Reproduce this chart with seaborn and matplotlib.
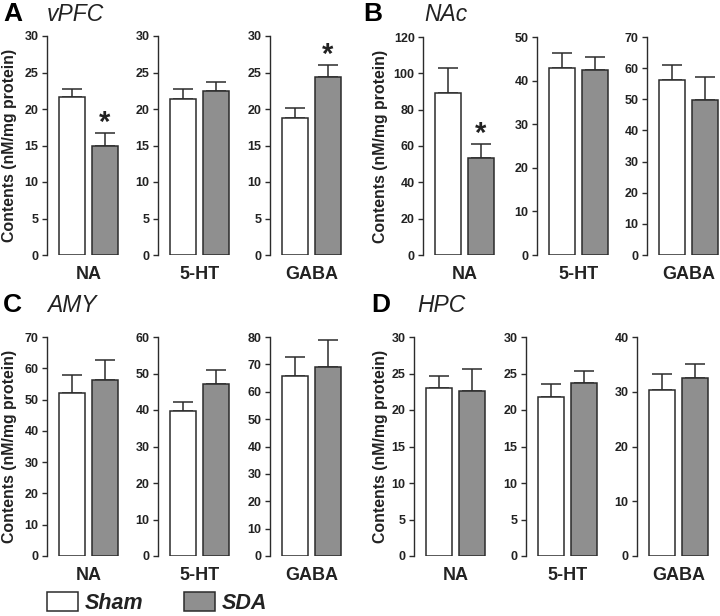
import numpy as np
import pandas as pd
import matplotlib
matplotlib.use("Agg")
import matplotlib.pyplot as plt
from matplotlib.patches import Patch
import seaborn as sns

# ---------------- data ----------------
regions = ["vPFC", "NAc", "AMY", "HPC"]
letters = ["A", "B", "C", "D"]
transmitters = ["NA", "5-HT", "GABA"]
groups = ["Sham", "SDA"]

sham_vpfc = [21.6, 21.4, 18.8]
sham_vpfc_top = [22.7, 22.7, 20.1]
sda_vpfc = [15.0, 22.4, 24.35]
sda_vpfc_top = [16.7, 23.75, 26.0]

sham_nac = [88.9, 42.9, 56.1]
sham_nac_top = [103.0, 46.4, 61.0]
sda_nac = [53.2, 42.4, 49.9]
sda_nac_top = [61.1, 45.4, 57.0]

sham_amy = [52.2, 39.6, 65.8]
sham_amy_top = [57.9, 42.3, 72.7]
sda_amy = [56.1, 47.0, 69.2]
sda_amy_top = [62.6, 51.0, 79.0]

sham_hpc = [23.0, 21.8, 30.4]
sham_hpc_top = [24.6, 23.6, 33.2]
sda_hpc = [22.55, 23.65, 32.6]
sda_hpc_top = [25.6, 25.4, 35.0]

ymax_vpfc = [30, 30, 30]
ymax_nac = [120, 50, 70]
ymax_amy = [70, 60, 80]
ymax_hpc = [30, 30, 40]
ystep_vpfc = [5, 5, 5]
ystep_nac = [20, 10, 10]
ystep_amy = [10, 10, 10]
ystep_hpc = [5, 5, 10]

# significance markers (region, transmitter) on SDA bar
significant = [("vPFC", "NA"), ("vPFC", "GABA"), ("NAc", "NA")]

rows = []
for reg, sm, st, dm, dt in [
    ("vPFC", sham_vpfc, sham_vpfc_top, sda_vpfc, sda_vpfc_top),
    ("NAc", sham_nac, sham_nac_top, sda_nac, sda_nac_top),
    ("AMY", sham_amy, sham_amy_top, sda_amy, sda_amy_top),
    ("HPC", sham_hpc, sham_hpc_top, sda_hpc, sda_hpc_top),
]:
    for i, tr in enumerate(transmitters):
        rows.append(dict(region=reg, transmitter=tr, group="Sham", mean=sm[i], sem=st[i] - sm[i]))
        rows.append(dict(region=reg, transmitter=tr, group="SDA", mean=dm[i], sem=dt[i] - dm[i]))
df = pd.DataFrame(rows)

ymax = dict(vPFC=ymax_vpfc, NAc=ymax_nac, AMY=ymax_amy, HPC=ymax_hpc)
ystep = dict(vPFC=ystep_vpfc, NAc=ystep_nac, AMY=ystep_amy, HPC=ystep_hpc)

# ---------------- style ----------------
sns.set_style("ticks")
plt.rcParams["font.family"] = ["Liberation Sans", "DejaVu Sans"]
plt.rcParams["font.weight"] = "bold"

DARK = "#2b2b2b"
GRAY = "#8f8f8f"
TXT = "#222222"
palette = {"Sham": "white", "SDA": GRAY}

W, H = 720, 616
fig = plt.figure(figsize=(W / 100, H / 100), dpi=100)

# pixel layout: (left axis x positions, top y, bottom y, label right edge, letter x, title x, header baseline)
layout = {
    "vPFC": ([47, 158, 270], 36, 255, 17, 3, 47, 21),
    "NAc": ([423, 537, 647], 37, 255, 388, 363, 424, 21),
    "AMY": ([47, 158, 270], 337, 556, 17, 3, 47, 312),
    "HPC": ([414, 526, 637], 337, 556, 388, 371, 417, 312),
}
AX_W = 74

for reg, letter in zip(regions, letters):
    lefts, top, bottom, lab_x, let_x, tit_x, base_y = layout[reg]
    for i, tr in enumerate(transmitters):
        ax = fig.add_axes([lefts[i] / W, 1 - bottom / H, AX_W / W, (bottom - top) / H])
        sub = df[(df.region == reg) & (df.transmitter == tr)]
        sns.barplot(data=sub, x="group", y="mean", hue="group", order=groups,
                    hue_order=groups, palette=palette, errorbar=None, legend=False,
                    width=0.8, edgecolor=DARK, linewidth=1.1, ax=ax, zorder=3)
        ax.errorbar([0, 1], sub["mean"].values,
                    yerr=[np.zeros(2), sub["sem"].values],
                    fmt="none", ecolor=DARK, elinewidth=1.1, capsize=7,
                    capthick=1.1, zorder=2)
        ax.set_xlim(-0.77, 1.5)
        ax.set_ylim(0, ymax[reg][i])
        ax.set_yticks(np.arange(0, ymax[reg][i] + 0.1, ystep[reg][i]))
        ax.tick_params(axis="y", labelsize=9, length=3.5, width=1.0,
                       color=DARK, labelcolor=TXT, pad=2.5)
        for lab in ax.get_yticklabels():
            lab.set_fontweight("bold")
        ax.set_xticks([0.5])
        ax.set_xticklabels([tr], fontsize=13, fontweight="bold", color=TXT)
        ax.tick_params(axis="x", length=0, pad=8)
        ax.set_xlabel("")
        sns.despine(ax=ax, bottom=True)
        ax.spines["left"].set_color(DARK)
        ax.spines["left"].set_linewidth(1.0)
        if i == 0:
            ax.set_ylabel("Contents (nM/mg protein)", fontsize=11.4, fontweight="bold",
                          color=TXT)
            ax.yaxis.set_label_coords((lab_x - lefts[0]) / AX_W, 0.5)
        else:
            ax.set_ylabel("")
        if (reg, tr) in significant:
            srow = sub[sub.group == "SDA"].iloc[0]
            ax.annotate("*", xy=(1, srow["mean"] + srow["sem"]), xytext=(0, -3),
                        textcoords="offset points", ha="center", va="bottom",
                        fontsize=21, fontweight="bold", color=TXT)
    fig.text(let_x / W, 1 - base_y / H, letter, fontsize=19, fontweight="bold",
             color="black", va="baseline", ha="left")
    fig.text(tit_x / W, 1 - base_y / H, reg, fontsize=16.5, fontweight="normal",
             style="italic", color=TXT, va="baseline", ha="left")

handles = [Patch(facecolor=palette[g], edgecolor=DARK, linewidth=1.1, label=g) for g in groups]
leg = fig.legend(handles=handles, loc="lower left", bbox_to_anchor=(47 / W, 2 / H),
                 ncol=2, frameon=False, handlelength=1.44, handleheight=0.95,
                 handletextpad=0.33, columnspacing=1.85, borderpad=0, borderaxespad=0,
                 prop=dict(size=15.5, weight="bold", style="italic"))
for t in leg.get_texts():
    t.set_color(TXT)

fig.savefig("out.png", dpi=100)
